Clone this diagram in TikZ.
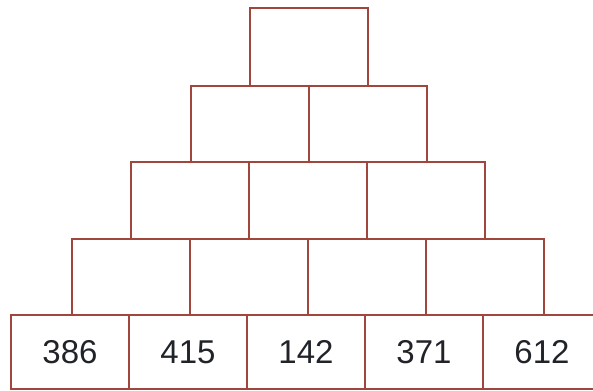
\documentclass[tikz,border=0pt]{standalone}
\usepackage{fontspec}
\setmainfont{Liberation Sans}
\definecolor{brick}{HTML}{A0463C}
\definecolor{ink}{HTML}{202328}
\begin{document}
\begin{tikzpicture}[x=1pt,y=1pt,
  brickbox/.style={draw=brick, line width=1.7pt, inner sep=0pt, minimum width=118pt, text=ink,
    font=\fontsize{33}{36}\selectfont, text height=24pt, text depth=0pt},
]
\useasboundingbox (0,0) rectangle (593,390);
\clip (0,0) rectangle (593,390);
\fill[white] (0,0) rectangle (593,390);
% row 5 (bottom): top 315, bottom 389 -> centre y=38, h=74
\foreach \i/\t in {0/386,1/415,2/142,3/371,4/612}{
  \node[brickbox, minimum height=74pt] (r5-\i) at ({11+59+118*\i},38) {\t};
}
% row 4: centre y=113, h=76
\foreach \i in {0,...,3}{
  \node[brickbox, minimum height=76pt] (r4-\i) at ({72+59+118*\i},113) {};
}
% row 3: centre y=189.5, h=77
\foreach \i in {0,...,2}{
  \node[brickbox, minimum height=77pt] (r3-\i) at ({131+59+118*\i},189.5) {};
}
% row 2: centre y=266, h=76
\foreach \i in {0,...,1}{
  \node[brickbox, minimum height=76pt] (r2-\i) at ({191+59+118*\i},266) {};
}
% row 1 (top): centre y=343, h=78
\node[brickbox, minimum height=78pt] (r1-0) at (309,343) {};
\end{tikzpicture}
\end{document}
